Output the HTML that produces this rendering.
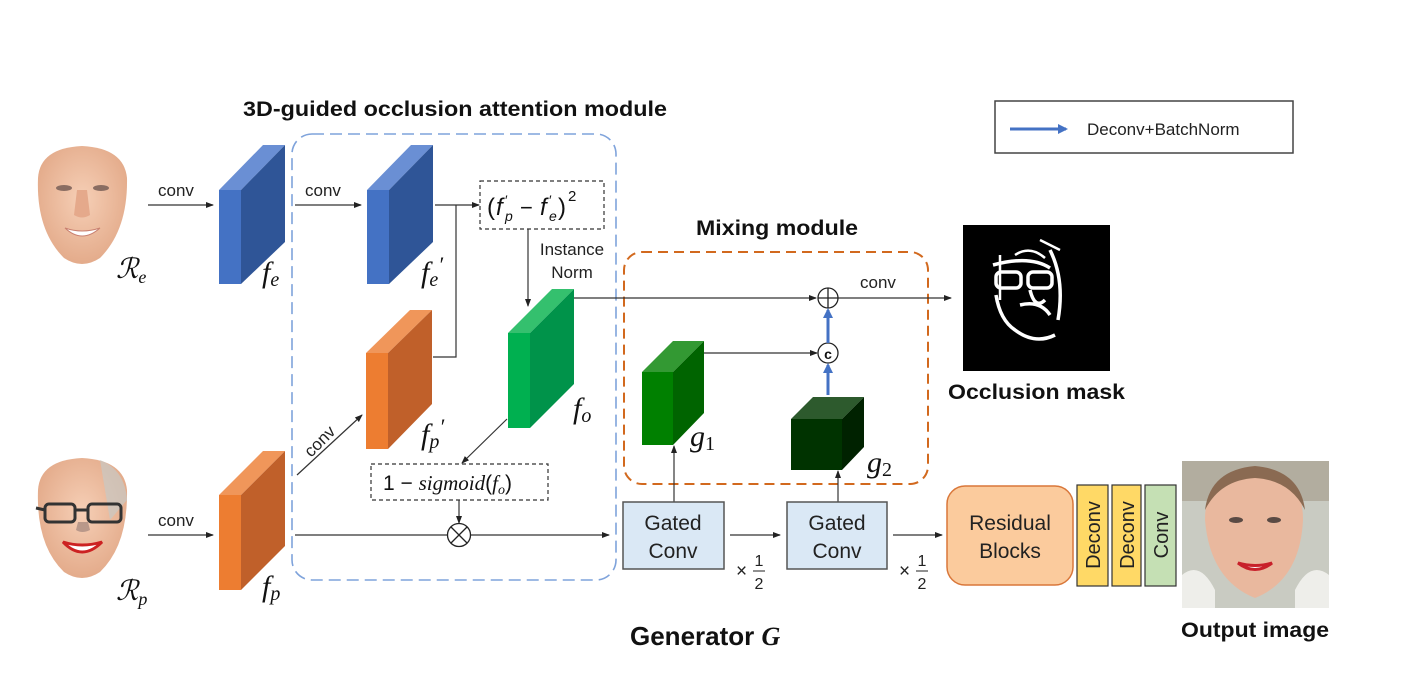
<!DOCTYPE html>
<html><head><meta charset="utf-8"><style>
html,body{margin:0;padding:0;background:#fff;}
svg{display:block;}
text{font-family:"Liberation Sans",sans-serif;}
.m{font-family:"Liberation Serif",serif;font-style:italic;}
</style></head><body>
<svg width="1407" height="680" viewBox="0 0 1407 680" xmlns="http://www.w3.org/2000/svg">
<defs>
<marker id="a" markerWidth="8" markerHeight="8" refX="7" refY="4" orient="auto" markerUnits="userSpaceOnUse"><path d="M0,1 L8,4 L0,7 z" fill="#222"/></marker>
<marker id="b" markerWidth="10" markerHeight="10" refX="8" refY="5" orient="auto" markerUnits="userSpaceOnUse"><path d="M0,0 L10,5 L0,10 z" fill="#4472C4"/></marker>
<radialGradient id="skin" cx="50%" cy="45%" r="60%"><stop offset="0" stop-color="#f6cfb6"/><stop offset="1" stop-color="#e2a887"/></radialGradient>
</defs>

<text x="243" y="116" font-size="21" font-weight="bold" fill="#111" textLength="424" lengthAdjust="spacingAndGlyphs">3D-guided occlusion attention module</text>
<text x="696" y="235" font-size="21" font-weight="bold" fill="#111" textLength="162" lengthAdjust="spacingAndGlyphs">Mixing module</text>
<text x="948" y="399" font-size="21" font-weight="bold" fill="#111" textLength="177" lengthAdjust="spacingAndGlyphs">Occlusion mask</text>
<text x="1181" y="637" font-size="21" font-weight="bold" fill="#111" textLength="148" lengthAdjust="spacingAndGlyphs">Output image</text>
<text x="630" y="645" font-size="26" font-weight="bold" fill="#111">Generator <tspan class="m" font-weight="bold">G</tspan></text>

<rect x="995" y="101" width="298" height="52" fill="#fff" stroke="#444" stroke-width="1.5"/>
<line x1="1010" y1="129" x2="1066" y2="129" stroke="#4472C4" stroke-width="3" marker-end="url(#b)"/>
<text x="1087" y="135" font-size="17" fill="#222">Deconv+BatchNorm</text>

<rect x="292" y="134" width="324" height="446" rx="20" fill="none" stroke="#7fa3db" stroke-width="1.6" stroke-dasharray="12,6"/>
<rect x="624" y="252" width="304" height="232" rx="18" fill="none" stroke="#d2691e" stroke-width="2" stroke-dasharray="10,6"/>

<g>
<path d="M38,178 Q40,148 82,146 Q124,148 127,178 Q128,230 100,258 Q82,270 64,258 Q36,230 38,178z" fill="url(#skin)"/>
<ellipse cx="64" cy="188" rx="8" ry="3" fill="#8a6d62"/><ellipse cx="101" cy="188" rx="8" ry="3" fill="#8a6d62"/>
<path d="M77,190 L74,215 Q82,220 90,215 L87,190" fill="#e5a98b"/>
<path d="M65,228 Q82,244 100,228 Q82,234 65,228z" fill="#fff" stroke="#c98070"/>
</g>
<g>
<path d="M38,490 Q40,460 82,458 Q124,460 127,490 Q128,545 100,572 Q82,584 64,572 Q36,545 38,490z" fill="url(#skin)"/>
<path d="M100,460 Q125,470 127,500 L110,520 Z" fill="#c7c9c4" opacity="0.7"/>
<rect x="45" y="504" width="30" height="18" rx="4" fill="none" stroke="#333" stroke-width="3"/>
<rect x="88" y="504" width="33" height="18" rx="4" fill="none" stroke="#333" stroke-width="3"/>
<line x1="36" y1="508" x2="45" y2="510" stroke="#333" stroke-width="3"/><line x1="75" y1="510" x2="88" y2="510" stroke="#333" stroke-width="3"/>
<path d="M78,522 L76,530 Q82,534 90,530 L88,522" fill="#b9988a"/>
<path d="M63,542 Q82,562 102,542 Q82,548 63,542z" fill="#fff" stroke="#cc2222" stroke-width="3"/>
</g>

<text x="116" y="278" class="m" font-size="28" fill="#111">ℛ<tspan font-size="18" dy="5">e</tspan></text>
<text x="116" y="600" class="m" font-size="28" fill="#111">ℛ<tspan font-size="18" dy="5">p</tspan></text>

<g>
<polygon points="219,190 241,190 285,145 263,145" fill="#6a8fd4"/>
<polygon points="241,190 285,145 285,242 241,284" fill="#2f5597"/>
<rect x="219" y="190" width="22" height="94" fill="#4472c4"/>
</g>
<g>
<polygon points="367,190 389,190 433,145 411,145" fill="#6a8fd4"/>
<polygon points="389,190 433,145 433,242 389,284" fill="#2f5597"/>
<rect x="367" y="190" width="22" height="94" fill="#4472c4"/>
</g>
<g>
<polygon points="366,353 388,353 432,310 410,310" fill="#f0965a"/>
<polygon points="388,353 432,310 432,404 388,449" fill="#c0602a"/>
<rect x="366" y="353" width="22" height="96" fill="#ed7d31"/>
</g>
<g>
<polygon points="219,495 241,495 285,451 263,451" fill="#f0965a"/>
<polygon points="241,495 285,451 285,546 241,590" fill="#c0602a"/>
<rect x="219" y="495" width="22" height="95" fill="#ed7d31"/>
</g>
<g>
<polygon points="508,333 530,333 574,289 552,289" fill="#34c06e"/>
<polygon points="530,333 574,289 574,384 530,428" fill="#00934a"/>
<rect x="508" y="333" width="22" height="95" fill="#00b050"/>
</g>
<g>
<polygon points="642,372 673,372 704,341 673,341" fill="#339933"/>
<polygon points="673,372 704,341 704,413 673,445" fill="#006400"/>
<rect x="642" y="372" width="31" height="73" fill="#008000"/>
</g>
<g>
<polygon points="791,419 842,419 864,397 813,397" fill="#2d5a2d"/>
<polygon points="842,419 864,397 864,447 842,470" fill="#002200"/>
<rect x="791" y="419" width="51" height="51" fill="#003300"/>
</g>

<text x="262" y="282" class="m" font-size="30" fill="#111">f<tspan font-size="20" dy="4">e</tspan></text>
<text x="421" y="282" class="m" font-size="30" fill="#111">f<tspan font-size="20" dy="4">e</tspan><tspan dy="-14" font-size="22">′</tspan></text>
<text x="421" y="444" class="m" font-size="30" fill="#111">f<tspan font-size="20" dy="4">p</tspan><tspan dy="-14" font-size="22">′</tspan></text>
<text x="573" y="418" class="m" font-size="30" fill="#111">f<tspan font-size="20" dy="4">o</tspan></text>
<text x="262" y="596" class="m" font-size="30" fill="#111">f<tspan font-size="20" dy="4">p</tspan></text>
<text x="690" y="446" class="m" font-size="30" fill="#111">g<tspan font-size="20" dy="4" font-style="normal">1</tspan></text>
<text x="867" y="472" class="m" font-size="30" fill="#111">g<tspan font-size="20" dy="4" font-style="normal">2</tspan></text>

<g stroke="#333" stroke-width="1.2" fill="none">
<line x1="148" y1="205" x2="213" y2="205" marker-end="url(#a)"/>
<line x1="295" y1="205" x2="361" y2="205" marker-end="url(#a)"/>
<line x1="148" y1="535" x2="213" y2="535" marker-end="url(#a)"/>
<line x1="435" y1="205" x2="479" y2="205" marker-end="url(#a)"/>
<polyline points="456,205 456,357 433,357"/>
<line x1="528" y1="229" x2="528" y2="306" marker-end="url(#a)"/>
<line x1="507" y1="419" x2="462" y2="463" marker-end="url(#a)"/>
<line x1="297" y1="475" x2="362" y2="415" marker-end="url(#a)"/>
<line x1="459" y1="500" x2="459" y2="523" marker-end="url(#a)"/>
<line x1="295" y1="535" x2="609" y2="535" marker-end="url(#a)"/>
<line x1="574" y1="298" x2="816" y2="298" marker-end="url(#a)"/>
<line x1="838" y1="298" x2="951" y2="298" marker-end="url(#a)"/>
<line x1="704" y1="353" x2="817" y2="353" marker-end="url(#a)"/>
<line x1="674" y1="502" x2="674" y2="446" marker-end="url(#a)"/>
<line x1="838" y1="502" x2="838" y2="471" marker-end="url(#a)"/>
<line x1="730" y1="535" x2="780" y2="535" marker-end="url(#a)"/>
<line x1="893" y1="535" x2="942" y2="535" marker-end="url(#a)"/>
</g>
<circle cx="459" cy="535" r="11.5" fill="#fff" stroke="#222" stroke-width="1.3"/>
<path d="M451,527 L467,543 M467,527 L451,543" stroke="#222" stroke-width="1.3"/>
<circle cx="828" cy="298" r="10" fill="#fff" stroke="#222" stroke-width="1.3"/>
<path d="M818,298 H838 M828,288 V308" stroke="#222" stroke-width="1.3"/>
<circle cx="828" cy="353" r="10" fill="#fff" stroke="#222" stroke-width="1.3"/>
<text x="828" y="359" font-size="14" font-weight="bold" text-anchor="middle" fill="#111">c</text>
<line x1="828" y1="343" x2="828" y2="310" stroke="#4472C4" stroke-width="3" marker-end="url(#b)"/>
<line x1="828" y1="395" x2="828" y2="365" stroke="#4472C4" stroke-width="3" marker-end="url(#b)"/>

<text x="158" y="196" font-size="17" fill="#222">conv</text>
<text x="305" y="196" font-size="17" fill="#222">conv</text>
<text x="158" y="526" font-size="17" fill="#222">conv</text>
<text x="860" y="288" font-size="17" fill="#222">conv</text>
<text x="0" y="0" font-size="17" fill="#222" transform="translate(311,458) rotate(-45)">conv</text>
<text x="572" y="255" font-size="17" fill="#222" text-anchor="middle">Instance</text>
<text x="572" y="278" font-size="17" fill="#222" text-anchor="middle">Norm</text>

<rect x="480" y="181" width="124" height="48" fill="#fff" stroke="#333" stroke-width="1.2" stroke-dasharray="4,3"/>
<g font-family="Liberation Serif,serif" fill="#111">
<text x="487" y="215" font-size="24">(</text>
<text x="496" y="215" font-size="24" font-style="italic">f</text>
<text x="505" y="205" font-size="14">′</text>
<text x="505" y="221" font-size="14" font-style="italic">p</text>
<text x="520" y="215" font-size="22">−</text>
<text x="540" y="215" font-size="24" font-style="italic">f</text>
<text x="549" y="205" font-size="14">′</text>
<text x="549" y="221" font-size="14" font-style="italic">e</text>
<text x="558" y="215" font-size="24">)</text>
<text x="568" y="201" font-size="15">2</text>
</g>
<rect x="371" y="464" width="177" height="36" fill="#fff" stroke="#333" stroke-width="1.2" stroke-dasharray="4,3"/>
<text x="383" y="490" font-size="21" fill="#111" font-family="Liberation Serif,serif">1 − <tspan class="m">sigmoid</tspan>(<tspan class="m">f</tspan><tspan class="m" font-size="14" dy="4">o</tspan><tspan dy="-4">)</tspan></text>

<rect x="623" y="502" width="101" height="67" fill="#dae8f5" stroke="#555" stroke-width="1.5"/>
<text x="673" y="530" font-size="21" text-anchor="middle" fill="#222">Gated</text>
<text x="673" y="558" font-size="21" text-anchor="middle" fill="#222">Conv</text>
<rect x="787" y="502" width="100" height="67" fill="#dae8f5" stroke="#555" stroke-width="1.5"/>
<text x="837" y="530" font-size="21" text-anchor="middle" fill="#222">Gated</text>
<text x="837" y="558" font-size="21" text-anchor="middle" fill="#222">Conv</text>
<g font-family="Liberation Serif,serif" fill="#222">
<text x="736" y="577" font-size="19">×</text><text x="759" y="566" font-size="16" text-anchor="middle">1</text><line x1="753" y1="571" x2="765" y2="571" stroke="#222"/><text x="759" y="589" font-size="16" text-anchor="middle">2</text>
<text x="899" y="577" font-size="19">×</text><text x="922" y="566" font-size="16" text-anchor="middle">1</text><line x1="916" y1="571" x2="928" y2="571" stroke="#222"/><text x="922" y="589" font-size="16" text-anchor="middle">2</text>
</g>

<rect x="947" y="486" width="126" height="99" rx="18" fill="#fbcb9d" stroke="#d9773a" stroke-width="1.5"/>
<text x="1010" y="530" font-size="21" text-anchor="middle" fill="#222">Residual</text>
<text x="1010" y="558" font-size="21" text-anchor="middle" fill="#222">Blocks</text>
<rect x="1077" y="485" width="31" height="101" fill="#ffd966" stroke="#333" stroke-width="1.2"/>
<rect x="1112" y="485" width="29" height="101" fill="#ffd966" stroke="#333" stroke-width="1.2"/>
<rect x="1145" y="485" width="31" height="101" fill="#c5e0b4" stroke="#333" stroke-width="1.2"/>
<text transform="translate(1100,535) rotate(-90)" font-size="20" text-anchor="middle" fill="#222">Deconv</text>
<text transform="translate(1134,535) rotate(-90)" font-size="20" text-anchor="middle" fill="#222">Deconv</text>
<text transform="translate(1168,535) rotate(-90)" font-size="20" text-anchor="middle" fill="#222">Conv</text>

<rect x="963" y="225" width="147" height="146" fill="#000"/>
<g fill="none" stroke="#fff" stroke-width="3.5">
<rect x="996" y="272" width="25" height="16" rx="5"/><rect x="1028" y="272" width="24" height="16" rx="5"/>
<path d="M993,265 Q1030,255 1050,268 M996,295 Q1000,320 1015,330 Q1035,345 1055,335 M1050,250 Q1065,280 1058,320 M1020,305 Q1040,300 1050,315 M1030,290 Q1035,310 1045,300"/>
<path d="M1000,255 L1000,300 M1040,240 L1060,250 M1015,255 Q1030,245 1045,258" stroke-width="2.5"/>
</g>

<rect x="1182" y="461" width="147" height="147" fill="#c9cbc2"/>
<rect x="1182" y="461" width="147" height="40" fill="#9c8f7c" opacity="0.5"/>
<path d="M1205,520 Q1205,470 1255,468 Q1303,470 1303,520 Q1300,580 1255,598 Q1210,580 1205,520z" fill="#e9b89e"/>
<path d="M1205,510 Q1210,470 1255,466 Q1300,470 1305,510 Q1290,480 1255,478 Q1220,480 1205,510z" fill="#8a6a52"/>
<ellipse cx="1236" cy="520" rx="7" ry="3" fill="#5a4a44"/><ellipse cx="1274" cy="520" rx="7" ry="3" fill="#5a4a44"/>
<path d="M1238,563 Q1255,576 1272,563 Q1255,568 1238,563z" fill="#fff" stroke="#c8202a" stroke-width="3"/>
<path d="M1182,575 Q1200,560 1215,590 L1215,608 L1182,608z M1329,575 Q1310,560 1295,590 L1295,608 L1329,608z" fill="#eeeeea"/>
</svg>
</body></html>
